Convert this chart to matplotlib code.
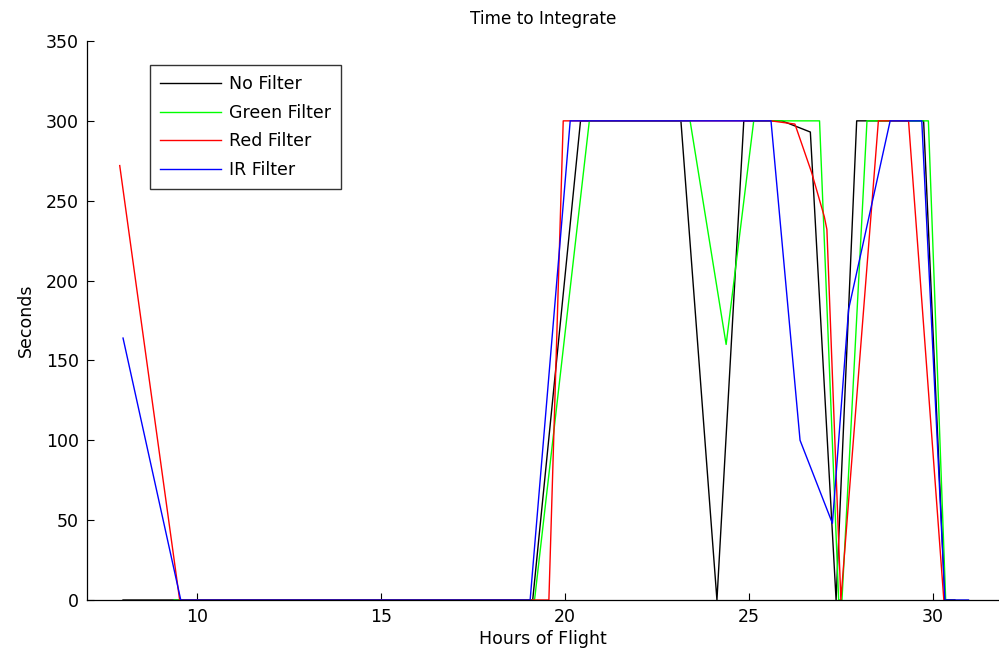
import matplotlib
matplotlib.use('Agg')
import matplotlib.pyplot as plt

# ──────────────────────────────────────────────
# DATA
# ──────────────────────────────────────────────
t_none = [7.98, 9.37, 19.12, 20.42, 23.15, 24.13, 24.86, 25.9, 26.67, 27.37, 27.93, 29.75, 30.33, 30.6]
s_none = [0, 0, 0, 300, 300, 0, 300, 300, 293, 0, 300, 300, 0, 0]

t_green = [9.37, 19.17, 20.66, 23.4, 24.38, 25.13, 26.92, 27.44, 27.53, 28.21, 29.88, 30.35]
s_green = [0, 0, 300, 300, 160, 300, 300, 0, 0, 300, 300, 0]

t_red = [7.89, 9.52, 19.56, 19.95, 25.6, 26.25, 26.7, 27.05, 27.12, 27.5, 28.52, 29.34, 30.3]
s_red = [272, 0, 0, 300, 300, 298, 268, 240, 232, 0, 300, 300, 0]

t_ir = [7.98, 9.55, 19.05, 20.14, 25.6, 26.39, 27.27, 27.71, 28.84, 29.7, 30.33, 30.97]
s_ir = [164, 0, 0, 300, 300, 100, 48, 182, 300, 300, 0, 0]

labels = ['No Filter', 'Green Filter', 'Red Filter', 'IR Filter']
colors = ['black', '#00ff00', '#ff0000', '#0000ff']

x_ticks = [10, 15, 20, 25, 30]
y_ticks = [0, 50, 100, 150, 200, 250, 300, 350]

plt.rcParams['font.family'] = ['DejaVu Sans']
fs = 12.5

W, H = 999, 655
fig = plt.figure(figsize=(W / 100, H / 100), dpi=100, facecolor='white')
ax = fig.add_axes([87 / W, 55 / H, (999 - 87) / W, 559 / H])

series = [(t_none, s_none), (t_green, s_green), (t_red, s_red), (t_ir, s_ir)]
for (t, s), lab, col in zip(series, labels, colors):
    ax.plot(t, s, color=col, lw=1.0, label=lab)

ax.set_xlim(7, 31.8)
ax.set_ylim(0, 350)
ax.set_xticks(x_ticks)
ax.set_yticks(y_ticks)
ax.tick_params(direction='in', length=5, width=0.8, labelsize=fs, pad=6)

for side in ['top', 'right']:
    ax.spines[side].set_visible(False)
for side in ['left', 'bottom']:
    ax.spines[side].set_linewidth(0.9)

ax.set_title('Time to Integrate', fontsize=fs - 0.3, pad=12)
ax.set_xlabel('Hours of Flight', fontsize=fs, labelpad=3)
ax.set_ylabel('Seconds', fontsize=fs, labelpad=8)

leg = ax.legend(loc='upper left', bbox_to_anchor=(0.069, 0.957), fontsize=fs,
                frameon=True, fancybox=False, handlelength=3.5, handletextpad=0.45,
                labelspacing=0.6, borderpad=0.6, borderaxespad=0)
leg.get_frame().set_edgecolor('black')
leg.get_frame().set_linewidth(1.0)

fig.savefig('out.png', dpi=100, facecolor='white')
plt.close()
